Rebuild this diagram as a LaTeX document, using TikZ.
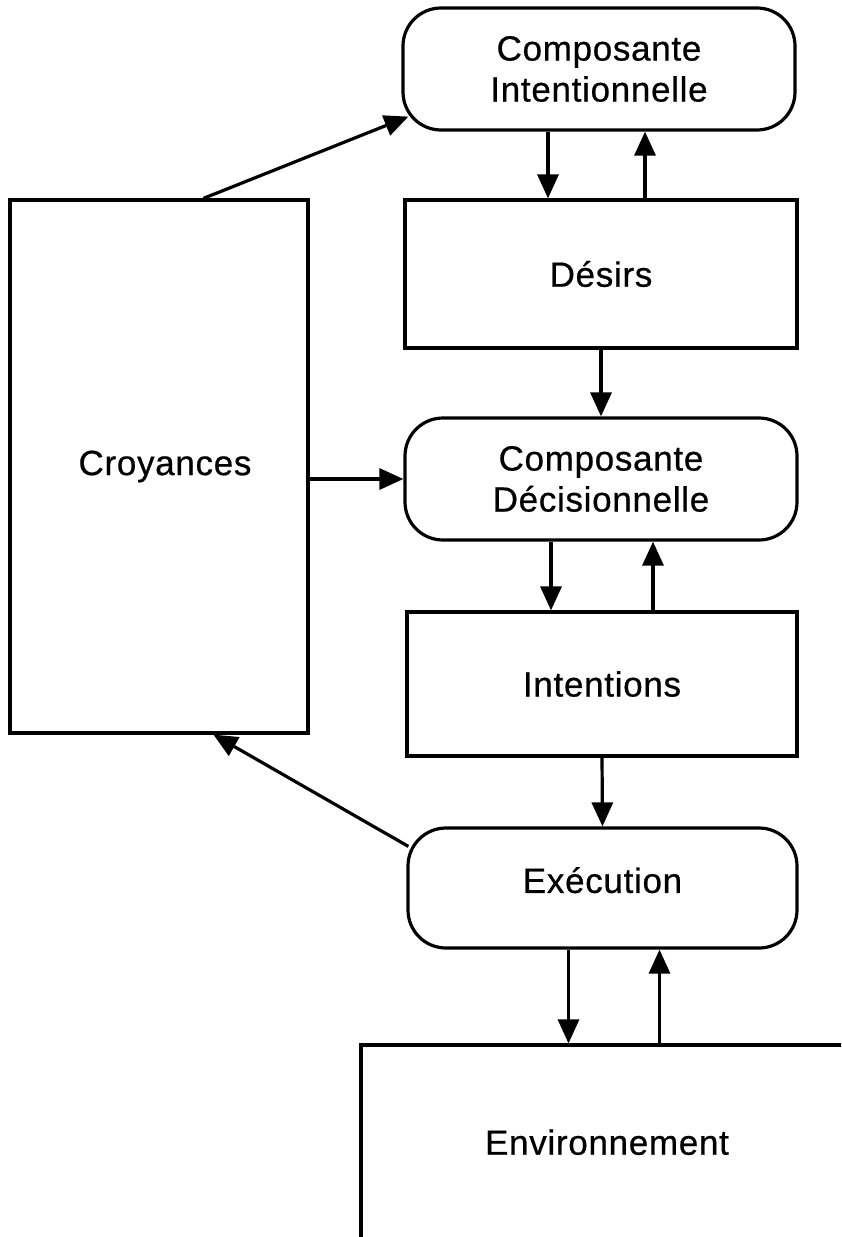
\documentclass[tikz,border=0pt]{standalone}
\usepackage{fontspec}
\setmainfont{Liberation Sans}
\newfontfamily\diagfont{Liberation Sans}[FakeBold=0.6, LetterSpace=2]
\usetikzlibrary{arrows.meta}
\begin{document}
\begin{tikzpicture}[x=1pt,y=-1pt,
  every node/.style={font=\diagfont\fontsize{35}{41}\selectfont, align=center, inner sep=0pt},
  box/.style={draw, line width=3.2pt, rectangle},
  roundbox/.style={box, rounded corners=38pt},
  arr/.style={line width=3.2pt, -{Triangle[length=24pt,width=21pt]}}]
  \useasboundingbox (0,0) rectangle (841,1237);
  \clip (0,0) rectangle (841,1237);

  % components and stores
  \node[roundbox, minimum width=392pt, minimum height=122pt] (ci) at (599,69) {Composante\\Intentionnelle};
  \node[box, minimum width=392pt, minimum height=148pt] (des) at (601,274) {Désirs};
  \node[roundbox, minimum width=392pt, minimum height=122pt] (cd) at (601,479) {Composante\\Décisionnelle};
  \node[box, minimum width=390pt, minimum height=144pt] (int) at (602,684) {Intentions};
  \node[roundbox, minimum width=389pt, minimum height=120pt] (exe) at (602.5,888) {\raisebox{16pt}{Exécution}};
  \node[box, minimum width=298pt, minimum height=533pt] (croy) at (159,466.5) {\hspace{12pt}Croyances};
  \node[box, minimum width=492pt, minimum height=198pt] (env) at (607,1144) {\raisebox{4pt}{Environnement}};

  % connectors
  \draw[arr] ([xshift=195pt]croy.north west) -- ([shift={(7,-15)}]ci.south west);
  \draw[arr] ([xshift=-51pt]ci.south) -- ([xshift=-51pt]ci.south |- des.north);
  \draw[arr] ([xshift=44pt]des.north) -- ([xshift=44pt]des.north |- ci.south);
  \draw[arr] (des.south) -- (cd.north);
  \draw[arr] (croy.east |- cd.west) -- (cd.west);
  \draw[arr] ([xshift=-50pt]cd.south) -- ([xshift=-50pt]cd.south |- int.north);
  \draw[arr] ([xshift=51pt]int.north) -- ([xshift=51pt]int.north |- cd.south);
  \draw[arr] (int.south) -- (exe.north);
  \draw[arr] ([shift={(2,20)}]exe.north west) -- ([xshift=205pt]croy.south west);
  \draw[arr] ([xshift=-34pt]exe.south) -- ([xshift=-34pt]exe.south |- env.north);
  \draw[arr] ([xshift=57pt]env.north -| exe.south) -- ([xshift=57pt]exe.south);
\end{tikzpicture}
\end{document}
